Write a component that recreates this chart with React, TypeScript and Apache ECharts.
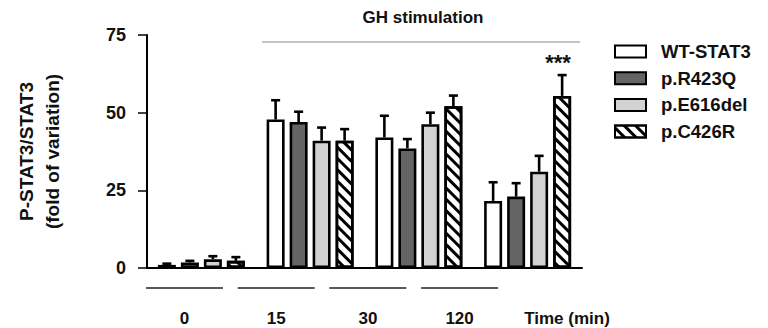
import React, { useEffect, useRef } from "react";
import * as echarts from "echarts";

const categories = ["0", "15", "30", "120"];
const seriesNames = ["WT-STAT3", "p.R423Q", "p.E616del", "p.C426R"];
const wtValues = [1, 47.8, 42, 21.6];
const wtErrors = [0.4, 6.2, 7, 6];
const r423qValues = [1.8, 47, 38.5, 23];
const r423qErrors = [0.5, 3.3, 3, 4.3];
const e616Values = [2.8, 41, 46.3, 31];
const e616Errors = [1, 4.2, 3.7, 5.1];
const c426Values = [2.3, 41, 52.1, 55.4];
const c426Errors = [1.2, 3.7, 3.4, 6.7];
const timeLabels = ["0", "15", "30", "120"];
const yTicks = [0, 25, 50, 75];

const FONT = "'Liberation Sans', Arial, sans-serif";
const BAR_W = 18;
const GAP = 5;

export default function App() {
  const ref = useRef<HTMLDivElement>(null);
  useEffect(() => {
    document.body.style.margin = "0";
    if (!ref.current) return;
    const chart = echarts.init(ref.current, null, { renderer: "svg" });
    const allValues = [wtValues, r423qValues, e616Values, c426Values];
    const allErrors = [wtErrors, r423qErrors, e616Errors, c426Errors];
    const fills = ["#ffffff", "#646464", "#d2d2d2", "#ffffff"];

    const barSeries = seriesNames.map((name, i) => ({
      type: "bar",
      name,
      data: allValues[i],
      barWidth: BAR_W,
      barGap: (GAP / BAR_W) * 100 + "%",
      itemStyle: {
        color: fills[i],
        borderColor: "#000",
        borderWidth: 2.6,
        decal:
          i === 3
            ? {
                symbol: "rect",
                symbolSize: 1,
                color: "#000",
                dashArrayX: [1, 0],
                dashArrayY: [2.5, 4.5],
                rotation: Math.PI / 4,
              }
            : "none",
      },
      z: 2,
    }));

    const errSeries = seriesNames.map((name, i) => ({
      type: "custom",
      name: name + "-err",
      z: 3,
      data: allValues[i].map((v, k) => [k, v, v + allErrors[i][k]]),
      renderItem: (params: any, api: any) => {
        const c = api.value(0);
        const base = api.coord([c, api.value(1)]);
        const top = api.coord([c, api.value(2)]);
        const off = (i - 1.5) * (BAR_W + GAP);
        const x = base[0] + off;
        const style = { stroke: "#000", lineWidth: 2.6 };
        return {
          type: "group",
          children: [
            { type: "line", shape: { x1: x, y1: base[1], x2: x, y2: top[1] }, style },
            { type: "line", shape: { x1: x - 4.5, y1: top[1], x2: x + 4.5, y2: top[1] }, style },
          ],
        };
      },
    }));

    const txt = (text: string, x: number, y: number, size: number) => ({
      type: "text",
      x,
      y,
      style: {
        text,
        fontFamily: FONT,
        fontWeight: "bold",
        fontSize: size,
        fill: "#111",
        textAlign: "center",
        textVerticalAlign: "middle",
      },
    });

    const graphic: any[] = [
      { type: "line", shape: { x1: 262, y1: 42, x2: 580, y2: 42 }, style: { stroke: "#888", lineWidth: 1.2 } },
      txt("GH stimulation", 423, 17, 17),
      txt("***", 558, 62, 22),
      txt("Time (min)", 567, 318, 17),
    ];
    timeLabels.forEach((t, k) => {
      const cx = 184.5 + k * 91.7;
      graphic.push({ type: "line", shape: { x1: cx - 38.5, y1: 288, x2: cx + 38.5, y2: 288 }, style: { stroke: "#222", lineWidth: 1.3 } });
      graphic.push(txt(t, cx, 318, 17));
    });

    chart.setOption({
      animation: false,
      textStyle: { fontFamily: FONT },
      grid: { left: 147, right: 186, top: 35, bottom: 60 },
      legend: {
        data: seriesNames,
        orient: "vertical",
        left: 609,
        top: 37,
        icon: "rect",
        itemWidth: 31,
        itemHeight: 12,
        itemGap: 7.7,
        textStyle: { fontFamily: FONT, fontWeight: "bold", fontSize: 18.5, color: "#111", padding: [0, 0, 0, 10] },
        selectedMode: false,
      },
      xAxis: {
        type: "category",
        data: categories,
        axisLine: { lineStyle: { color: "#000", width: 2 } },
        axisTick: { show: false },
        axisLabel: { show: false },
      },
      yAxis: {
        type: "value",
        min: yTicks[0],
        max: yTicks[yTicks.length - 1],
        interval: 25,
        name: "P-STAT3/STAT3\n(fold of variation)",
        nameLocation: "middle",
        nameGap: 82,
        nameTextStyle: { fontFamily: FONT, fontWeight: "bold", fontSize: 19, color: "#111", lineHeight: 26 },
        axisLine: { show: true, lineStyle: { color: "#000", width: 2 } },
        axisTick: { show: true, length: 9, lineStyle: { color: "#000", width: 1.5 } },
        axisLabel: { fontFamily: FONT, fontWeight: "bold", fontSize: 18, color: "#111", margin: 21 },
        splitLine: { show: false },
      },
      graphic,
      series: [...barSeries, ...errSeries],
    });
    return () => chart.dispose();
  }, []);
  return <div ref={ref} style={{ width: 768, height: 328 }} />;
}
